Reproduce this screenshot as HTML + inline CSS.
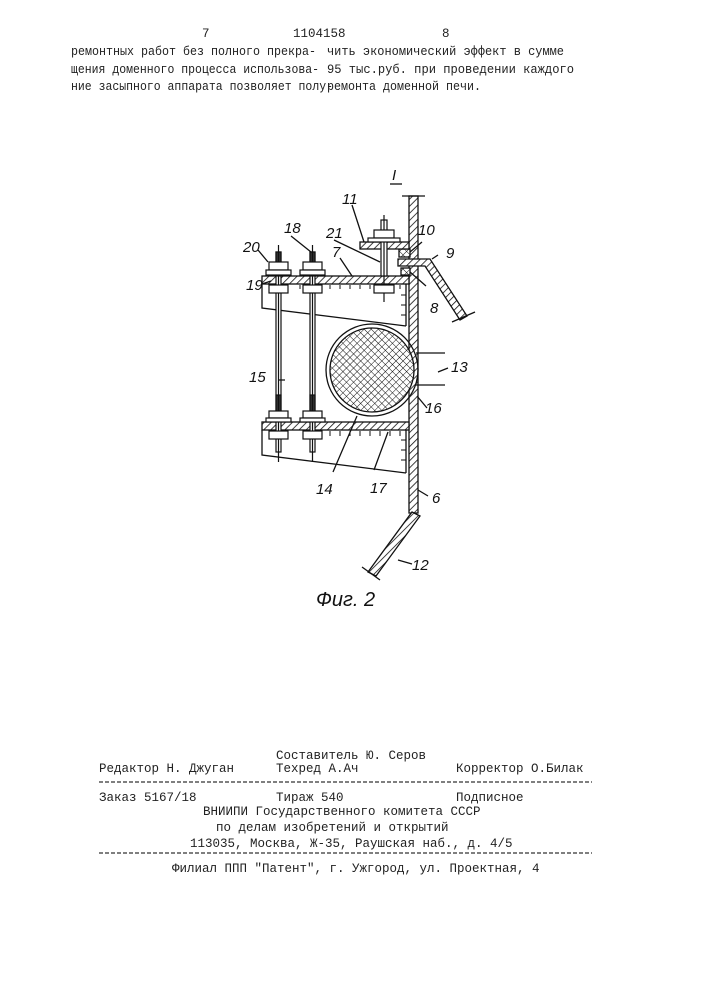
<!DOCTYPE html>
<html><head><meta charset="utf-8"><style>
html,body{margin:0;padding:0;background:#fff}
svg{display:block}
.t{font-family:"Liberation Mono","DejaVu Sans Mono",monospace;font-size:12.5px;fill:#222}
.l{font-family:"Liberation Sans",sans-serif;font-style:italic;font-size:15px;fill:#111}
</style></head><body>
<svg width="707" height="1000" viewBox="0 0 707 1000" xmlns="http://www.w3.org/2000/svg">
<defs>
<pattern id="h" width="5" height="5" patternUnits="userSpaceOnUse" patternTransform="rotate(45)">
<rect width="5" height="5" fill="#fff"/><line x1="0" y1="0" x2="0" y2="5" stroke="#111" stroke-width="1.6"/></pattern>
<pattern id="x" width="5" height="5" patternUnits="userSpaceOnUse" patternTransform="rotate(45)">
<rect width="5" height="5" fill="#fff"/><line x1="0" y1="0" x2="0" y2="5" stroke="#111" stroke-width="1"/><line x1="0" y1="0" x2="5" y2="0" stroke="#111" stroke-width="1"/></pattern>
</defs>
<!-- header -->
<text class="t" x="202" y="37">7</text>
<text class="t" x="293" y="37">1104158</text>
<text class="t" x="442" y="37">8</text>
<text class="t" x="71" y="55" textLength="245" lengthAdjust="spacingAndGlyphs">ремонтных работ без полного прекра-</text>
<text class="t" x="71" y="73" textLength="248" lengthAdjust="spacingAndGlyphs">щения доменного процесса использова-</text>
<text class="t" x="71" y="90" textLength="262" lengthAdjust="spacingAndGlyphs">ние засыпного аппарата позволяет полу-</text>
<text class="t" x="327" y="55" textLength="237" lengthAdjust="spacingAndGlyphs">чить экономический эффект в сумме</text>
<text class="t" x="327" y="73" textLength="247" lengthAdjust="spacingAndGlyphs">95 тыс.руб. при проведении каждого</text>
<text class="t" x="327" y="90" textLength="154" lengthAdjust="spacingAndGlyphs">ремонта доменной печи.</text>

<!-- drawing -->
<g stroke="#111" fill="none" stroke-width="1.3">
<text class="l" x="392" y="180" stroke="none">I</text>
<line x1="390" y1="184" x2="402" y2="184"/>
<rect x="409" y="196" width="9" height="317" fill="url(#h)"/>
<line x1="402" y1="196" x2="425" y2="196"/>
<polygon points="412,512 420,516 376,576 368,572" fill="url(#h)"/>
<line x1="362" y1="567" x2="380" y2="580"/>
<polygon points="398,259 430,259 467,316 460,320 425,266 398,266" fill="url(#h)"/>
<line x1="452" y1="322" x2="475" y2="312"/>
<rect x="399" y="249" width="11" height="8" fill="url(#x)"/>
<rect x="401" y="268" width="9" height="7" fill="url(#x)"/>
<rect x="360" y="242" width="49" height="7" fill="url(#h)"/>
<rect x="262" y="276" width="147" height="8" fill="url(#h)"/>
<rect x="262" y="422" width="147" height="8" fill="url(#h)"/>
<polyline points="262,284 262,308 406,326"/>
<polyline points="262,430 262,455 406,473"/>
<line x1="406" y1="284" x2="406" y2="326"/>
<line x1="406" y1="430" x2="406" y2="473"/>
<path d="M300 285v4M310 285v4M320 285v4M330 285v4M340 285v4M350 285v4M360 285v4M370 285v4M380 285v4M390 285v4M400 285v4 M330 431v5M340 431v5M350 431v5M360 431v5M370 431v5M380 431v5M390 431v5M400 431v5 M401 295h5M401 305h5M401 315h5M401 440h5M401 450h5M401 460h5" stroke-width="1"/>
<circle cx="372" cy="370" r="46"/>
<circle cx="372" cy="370" r="42" fill="url(#x)"/>
<line x1="416" y1="353" x2="445" y2="353"/>
<line x1="416" y1="385" x2="445" y2="385"/>
<g stroke-width="1.2">
<rect x="276" y="252" width="5" height="200" fill="#fff"/>
<rect x="310" y="252" width="5" height="200" fill="#fff"/>
<rect x="276" y="252" width="5" height="24" fill="#333"/>
<rect x="310" y="252" width="5" height="24" fill="#333"/>
<rect x="276" y="395" width="5" height="25" fill="#333"/>
<rect x="310" y="395" width="5" height="25" fill="#333"/>
<line x1="278.5" y1="245" x2="278.5" y2="462"/>
<line x1="312.5" y1="245" x2="312.5" y2="462"/>
<rect x="269" y="262" width="19" height="8" fill="#fff"/><rect x="266" y="270" width="25" height="5" fill="#fff"/>
<rect x="303" y="262" width="19" height="8" fill="#fff"/><rect x="300" y="270" width="25" height="5" fill="#fff"/>
<rect x="269" y="285" width="19" height="8" fill="#fff"/>
<rect x="303" y="285" width="19" height="8" fill="#fff"/>
<rect x="269" y="411" width="19" height="7" fill="#fff"/><rect x="266" y="418" width="25" height="4" fill="#fff"/>
<rect x="303" y="411" width="19" height="7" fill="#fff"/><rect x="300" y="418" width="25" height="4" fill="#fff"/>
<rect x="269" y="431" width="19" height="8" fill="#fff"/>
<rect x="303" y="431" width="19" height="8" fill="#fff"/>
<rect x="381" y="220" width="6" height="56" fill="#fff"/>
<line x1="384" y1="215" x2="384" y2="302"/>
<rect x="374" y="230" width="20" height="8" fill="#fff"/><rect x="368" y="238" width="32" height="4" fill="#fff"/>
<rect x="374" y="285" width="20" height="8" fill="#fff"/>
</g>
<path d="M258 250l10 12 M262 284l9-3 M291 236l20 16 M340 258l12 18 M334 240l46 22 M352 205l12 37 M410 252l12-10 M432 259l6-4 M410 272l16 14 M438 372l10-4 M417 396l10 12 M357 416l-24 56 M388 432l-14 38 M418 490l10 6 M398 560l14 4 M279 380l6 0"/>
</g>
<g class="l">
<text x="243" y="252">20</text>
<text x="246" y="290">19</text>
<text x="284" y="233">18</text>
<text x="326" y="238">21</text>
<text x="342" y="204">11</text>
<text x="332" y="257">7</text>
<text x="418" y="235">10</text>
<text x="446" y="258">9</text>
<text x="430" y="313">8</text>
<text x="451" y="372">13</text>
<text x="425" y="413">16</text>
<text x="249" y="382">15</text>
<text x="316" y="494">14</text>
<text x="370" y="493">17</text>
<text x="432" y="503">6</text>
<text x="412" y="570">12</text>
<text x="316" y="606" font-size="20">Фиг. 2</text>
</g>

<!-- footer -->
<text class="t" x="276" y="759">Составитель Ю. Серов</text>
<text class="t" x="99" y="772">Редактор Н. Джуган</text>
<text class="t" x="276" y="772">Техред А.Ач</text>
<text class="t" x="456" y="772">Корректор О.Билак</text>
<line x1="99" y1="782" x2="592" y2="782" stroke="#333" stroke-dasharray="4,2" stroke-width="1.2"/>
<text class="t" x="99" y="801">Заказ 5167/18</text>
<text class="t" x="276" y="801">Тираж 540</text>
<text class="t" x="456" y="801">Подписное</text>
<text class="t" x="203" y="815">ВНИИПИ Государственного комитета СССР</text>
<text class="t" x="216" y="831">по делам изобретений и открытий</text>
<text class="t" x="190" y="847">113035, Москва, Ж-35, Раушская наб., д. 4/5</text>
<line x1="99" y1="853" x2="592" y2="853" stroke="#333" stroke-dasharray="4,2" stroke-width="1.2"/>
<text class="t" x="172" y="872">Филиал ППП "Патент", г. Ужгород, ул. Проектная, 4</text>
</svg>
</body></html>
